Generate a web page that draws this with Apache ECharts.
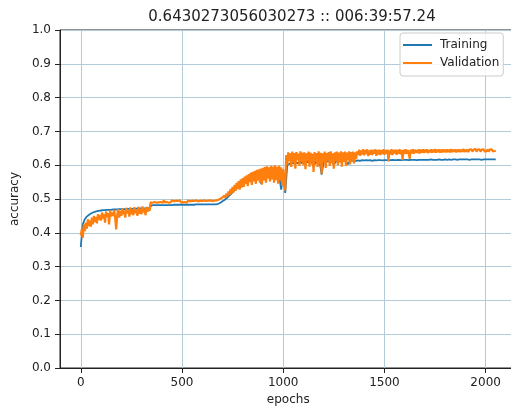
<!DOCTYPE html>
<html>
<head>
<meta charset="utf-8">
<title>accuracy</title>
<script src="https://cdn.jsdelivr.net/npm/echarts@6/dist/echarts.min.js"></script>
<style>
    html, body { margin: 0; padding: 0; background: #fff; }
    #chart { width: 511px; height: 407px; }
</style>
</head>
<body>
<div id="chart"></div>
<script>
// 图表标题和坐标轴文字
var titleText = '0.6430273056030273 :: 006:39:57.24';
var seriesNames = ['Training', 'Validation'];
var xTicks = [0, 500, 1000, 1500, 2000];

// 训练曲线的 epoch (每10个取一个点)
var trainEpochs = [
    0, 10, 20, 30, 40, 50, 60, 70, 80, 90,
    100, 110, 120, 130, 140, 150, 160, 170, 180, 190,
    200, 210, 220, 230, 240, 250, 260, 270, 280, 290,
    300, 310, 320, 330, 340, 350, 360, 370, 380, 390,
    400, 410, 420, 430, 440, 450, 460, 470, 480, 490,
    500, 510, 520, 530, 540, 550, 560, 570, 580, 590,
    600, 610, 620, 630, 640, 650, 660, 670, 680, 690,
    700, 710, 720, 730, 740, 750, 760, 770, 780, 790,
    800, 810, 820, 830, 840, 850, 860, 870, 880, 890,
    900, 910, 920, 930, 940, 950, 960, 970, 980, 990,
    1000, 1010, 1020, 1030, 1040, 1050, 1060, 1070, 1080, 1090,
    1100, 1110, 1120, 1130, 1140, 1150, 1160, 1170, 1180, 1190,
    1200, 1210, 1220, 1230, 1240, 1250, 1260, 1270, 1280, 1290,
    1300, 1310, 1320, 1330, 1340, 1350, 1360, 1370, 1380, 1390,
    1400, 1410, 1420, 1430, 1440, 1450, 1460, 1470, 1480, 1490,
    1500, 1510, 1520, 1530, 1540, 1550, 1560, 1570, 1580, 1590,
    1600, 1610, 1620, 1630, 1640, 1650, 1660, 1670, 1680, 1690,
    1700, 1710, 1720, 1730, 1740, 1750, 1760, 1770, 1780, 1790,
    1800, 1810, 1820, 1830, 1840, 1850, 1860, 1870, 1880, 1890,
    1900, 1910, 1920, 1930, 1940, 1950, 1960, 1970, 1980, 1990,
    2000, 2010, 2020, 2030, 2040, 2050
];

// 训练集准确率
var training = [
    0.358, 0.425, 0.440, 0.448, 0.453, 0.457, 0.460, 0.462, 0.464, 0.465,
    0.466, 0.467, 0.467, 0.468, 0.468, 0.468, 0.469, 0.469, 0.469, 0.470,
    0.470, 0.470, 0.470, 0.471, 0.471, 0.471, 0.471, 0.471, 0.472, 0.472,
    0.472, 0.472, 0.472, 0.473, 0.474, 0.481, 0.482, 0.482, 0.482, 0.482,
    0.482, 0.482, 0.482, 0.482, 0.482, 0.482, 0.483, 0.483, 0.483, 0.483,
    0.483, 0.483, 0.483, 0.483, 0.483, 0.483, 0.483, 0.484, 0.484, 0.484,
    0.484, 0.484, 0.484, 0.484, 0.484, 0.484, 0.484, 0.484, 0.486, 0.489,
    0.493, 0.497, 0.502, 0.508, 0.514, 0.520, 0.526, 0.531, 0.535, 0.539,
    0.543, 0.546, 0.549, 0.552, 0.554, 0.556, 0.558, 0.560, 0.561, 0.546,
    0.563, 0.565, 0.566, 0.567, 0.568, 0.569, 0.570, 0.571, 0.571, 0.528,
    0.572, 0.518, 0.600, 0.604, 0.607, 0.605, 0.608, 0.606, 0.609, 0.607,
    0.609, 0.608, 0.610, 0.608, 0.610, 0.595, 0.610, 0.609, 0.611, 0.572,
    0.611, 0.610, 0.612, 0.611, 0.612, 0.600, 0.612, 0.611, 0.613, 0.612,
    0.613, 0.612, 0.603, 0.613, 0.613, 0.614, 0.613, 0.614, 0.613, 0.615,
    0.614, 0.615, 0.614, 0.615, 0.613, 0.615, 0.614, 0.615, 0.615, 0.614,
    0.615, 0.615, 0.614, 0.615, 0.616, 0.615, 0.615, 0.616, 0.615, 0.616,
    0.616, 0.616, 0.615, 0.616, 0.616, 0.616, 0.615, 0.616, 0.616, 0.616,
    0.616, 0.616, 0.616, 0.617, 0.616, 0.616, 0.616, 0.617, 0.616, 0.616,
    0.617, 0.616, 0.617, 0.616, 0.617, 0.617, 0.616, 0.617, 0.617, 0.617,
    0.617, 0.617, 0.616, 0.617, 0.617, 0.617, 0.617, 0.617, 0.616, 0.617,
    0.617, 0.617, 0.617, 0.617, 0.617, 0.617
];

// 验证曲线的 epoch (每5个取一个点, 噪声较大)
var valEpochs = [
    0, 5, 10, 15, 20, 25, 30, 35, 40, 45, 50, 55, 60, 65, 70, 75, 80, 85, 90, 95,
    100, 105, 110, 115, 120, 125, 130, 135, 140, 145, 150, 155, 160, 165, 170, 175, 180, 185, 190, 195,
    200, 205, 210, 215, 220, 225, 230, 235, 240, 245, 250, 255, 260, 265, 270, 275, 280, 285, 290, 295,
    300, 305, 310, 315, 320, 325, 330, 335, 340, 345, 350, 355, 360, 365, 370, 375, 380, 385, 390, 395,
    400, 405, 410, 415, 420, 425, 430, 435, 440, 445, 450, 455, 460, 465, 470, 475, 480, 485, 490, 495,
    500, 505, 510, 515, 520, 525, 530, 535, 540, 545, 550, 555, 560, 565, 570, 575, 580, 585, 590, 595,
    600, 605, 610, 615, 620, 625, 630, 635, 640, 645, 650, 655, 660, 665, 670, 675, 680, 685, 690, 695,
    700, 705, 710, 715, 720, 725, 730, 735, 740, 745, 750, 755, 760, 765, 770, 775, 780, 785, 790, 795,
    800, 805, 810, 815, 820, 825, 830, 835, 840, 845, 850, 855, 860, 865, 870, 875, 880, 885, 890, 895,
    900, 905, 910, 915, 920, 925, 930, 935, 940, 945, 950, 955, 960, 965, 970, 975, 980, 985, 990, 995,
    1000, 1005, 1010, 1015, 1020, 1025, 1030, 1035, 1040, 1045, 1050, 1055, 1060, 1065, 1070, 1075, 1080, 1085, 1090, 1095,
    1100, 1105, 1110, 1115, 1120, 1125, 1130, 1135, 1140, 1145, 1150, 1155, 1160, 1165, 1170, 1175, 1180, 1185, 1190, 1195,
    1200, 1205, 1210, 1215, 1220, 1225, 1230, 1235, 1240, 1245, 1250, 1255, 1260, 1265, 1270, 1275, 1280, 1285, 1290, 1295,
    1300, 1305, 1310, 1315, 1320, 1325, 1330, 1335, 1340, 1345, 1350, 1355, 1360, 1365, 1370, 1375, 1380, 1385, 1390, 1395,
    1400, 1405, 1410, 1415, 1420, 1425, 1430, 1435, 1440, 1445, 1450, 1455, 1460, 1465, 1470, 1475, 1480, 1485, 1490, 1495,
    1500, 1505, 1510, 1515, 1520, 1525, 1530, 1535, 1540, 1545, 1550, 1555, 1560, 1565, 1570, 1575, 1580, 1585, 1590, 1595,
    1600, 1605, 1610, 1615, 1620, 1625, 1630, 1635, 1640, 1645, 1650, 1655, 1660, 1665, 1670, 1675, 1680, 1685, 1690, 1695,
    1700, 1705, 1710, 1715, 1720, 1725, 1730, 1735, 1740, 1745, 1750, 1755, 1760, 1765, 1770, 1775, 1780, 1785, 1790, 1795,
    1800, 1805, 1810, 1815, 1820, 1825, 1830, 1835, 1840, 1845, 1850, 1855, 1860, 1865, 1870, 1875, 1880, 1885, 1890, 1895,
    1900, 1905, 1910, 1915, 1920, 1925, 1930, 1935, 1940, 1945, 1950, 1955, 1960, 1965, 1970, 1975, 1980, 1985, 1990, 1995,
    2000, 2005, 2010, 2015, 2020, 2025, 2030, 2035, 2040, 2045, 2050
];

// 验证集准确率
var validation = [
    0.392, 0.410, 0.385, 0.425, 0.405, 0.430, 0.412, 0.440, 0.420, 0.436, 0.418, 0.445, 0.425, 0.450, 0.432, 0.447, 0.428, 0.455, 0.438, 0.452,
    0.436, 0.460, 0.442, 0.455, 0.430, 0.463, 0.447, 0.458, 0.425, 0.466, 0.448, 0.460, 0.450, 0.468, 0.444, 0.410, 0.452, 0.470, 0.445, 0.465,
    0.450, 0.472, 0.455, 0.466, 0.445, 0.474, 0.458, 0.468, 0.448, 0.475, 0.455, 0.470, 0.452, 0.476, 0.458, 0.469, 0.450, 0.477, 0.456, 0.471,
    0.455, 0.478, 0.460, 0.472, 0.452, 0.477, 0.462, 0.474, 0.465, 0.490, 0.495, 0.489, 0.494, 0.491, 0.496, 0.489, 0.493, 0.490, 0.495, 0.491,
    0.494, 0.489, 0.496, 0.490, 0.493, 0.491, 0.495, 0.489, 0.494, 0.490, 0.496, 0.491, 0.493, 0.489, 0.495, 0.490, 0.494, 0.491, 0.496, 0.490,
    0.493, 0.490, 0.495, 0.491, 0.494, 0.489, 0.496, 0.491, 0.493, 0.490, 0.495, 0.491, 0.494, 0.490, 0.496, 0.491, 0.493, 0.490, 0.495, 0.491,
    0.494, 0.490, 0.496, 0.491, 0.494, 0.491, 0.495, 0.490, 0.496, 0.492, 0.494, 0.491, 0.495, 0.492, 0.496, 0.494, 0.498, 0.496, 0.501, 0.499,
    0.505, 0.501, 0.510, 0.504, 0.516, 0.508, 0.522, 0.512, 0.530, 0.516, 0.536, 0.520, 0.542, 0.525, 0.548, 0.530, 0.553, 0.528, 0.558, 0.534,
    0.562, 0.536, 0.566, 0.545, 0.570, 0.538, 0.574, 0.550, 0.578, 0.542, 0.580, 0.552, 0.583, 0.545, 0.586, 0.555, 0.588, 0.548, 0.590, 0.542,
    0.592, 0.555, 0.595, 0.548, 0.597, 0.560, 0.594, 0.552, 0.598, 0.558, 0.596, 0.548, 0.600, 0.556, 0.595, 0.545, 0.598, 0.555, 0.594, 0.540,
    0.588, 0.548, 0.525, 0.630, 0.600, 0.638, 0.612, 0.635, 0.595, 0.640, 0.608, 0.636, 0.590, 0.639, 0.615, 0.634, 0.598, 0.641, 0.610, 0.637,
    0.600, 0.638, 0.588, 0.635, 0.612, 0.640, 0.596, 0.637, 0.605, 0.634, 0.580, 0.639, 0.610, 0.636, 0.595, 0.641, 0.604, 0.637, 0.575, 0.635,
    0.608, 0.640, 0.592, 0.636, 0.615, 0.639, 0.598, 0.641, 0.606, 0.635, 0.590, 0.638, 0.612, 0.640, 0.600, 0.637, 0.608, 0.641, 0.596, 0.638,
    0.610, 0.640, 0.598, 0.637, 0.614, 0.641, 0.602, 0.639, 0.612, 0.640, 0.605, 0.638, 0.618, 0.641, 0.630, 0.646, 0.628, 0.644, 0.632, 0.647,
    0.629, 0.645, 0.633, 0.647, 0.627, 0.644, 0.631, 0.646, 0.630, 0.645, 0.634, 0.647, 0.628, 0.645, 0.632, 0.646, 0.630, 0.644, 0.633, 0.647,
    0.631, 0.645, 0.634, 0.646, 0.612, 0.644, 0.632, 0.647, 0.630, 0.645, 0.635, 0.646, 0.631, 0.645, 0.634, 0.647, 0.632, 0.645, 0.616, 0.646,
    0.634, 0.647, 0.633, 0.645, 0.636, 0.619, 0.646, 0.635, 0.647, 0.634, 0.646, 0.637, 0.645, 0.636, 0.647, 0.635, 0.646, 0.637, 0.647, 0.636,
    0.646, 0.638, 0.647, 0.636, 0.645, 0.638, 0.647, 0.637, 0.646, 0.638, 0.648, 0.637, 0.646, 0.639, 0.647, 0.637, 0.646, 0.638, 0.647, 0.639,
    0.646, 0.638, 0.647, 0.639, 0.646, 0.638, 0.648, 0.639, 0.646, 0.640, 0.647, 0.638, 0.646, 0.640, 0.647, 0.639, 0.646, 0.640, 0.648, 0.639,
    0.646, 0.640, 0.647, 0.639, 0.646, 0.641, 0.647, 0.640, 0.646, 0.641, 0.648, 0.640, 0.646, 0.641, 0.647, 0.640, 0.646, 0.641, 0.647, 0.641,
    0.646, 0.641, 0.647, 0.640, 0.646, 0.642, 0.647, 0.641, 0.646, 0.642, 0.643
];

function pairs(xs, values) {
    return values.map(function (v, i) { return [xs[i], v]; });
}

var font = 'DejaVu Sans';
var ink = '#222';
var gridColor = '#b3cad8';

var myChart = echarts.init(document.getElementById('chart'), null, { renderer: 'canvas' });
var option = {
    animation: false,
    backgroundColor: '#fff',
    title: {
        text: titleText,
        left: 287,
        top: 5,
        textAlign: 'center',
        textStyle: { fontFamily: font, fontSize: 15, fontWeight: 'normal', color: ink }
    },
    legend: {
        data: seriesNames,
        orient: 'vertical',
        left: 400,
        top: 33,
        padding: [6, 4, 7, 3],
        itemGap: 6,
        itemWidth: 29,
        itemHeight: 2,
        icon: 'rect',
        backgroundColor: 'rgba(255,255,255,0.85)',
        borderColor: '#cccccc',
        borderWidth: 1,
        borderRadius: 3,
        textStyle: { fontFamily: font, fontSize: 12, color: ink, padding: [0, 0, 0, 3] }
    },
    grid: {
        left: 60,
        top: 30,
        right: -5.5,
        bottom: 39,
        show: true,
        borderColor: ink,
        borderWidth: 1,
        containLabel: false,
        outerBoundsMode: 'none'
    },
    xAxis: {
        type: 'value',
        min: -102.5,
        max: 2152.5,
        name: 'epochs',
        nameLocation: 'middle',
        nameGap: 26,
        nameTextStyle: { fontFamily: font, fontSize: 12, color: ink },
        axisLine: { show: true, onZero: false, lineStyle: { color: ink, width: 1 } },
        axisTick: { show: true, inside: false, length: 5, customValues: xTicks, lineStyle: { color: ink } },
        axisLabel: {
            customValues: xTicks,
            margin: 9,
            fontFamily: font,
            fontSize: 12,
            color: ink,
            formatter: function (v) { return String(v); }
        },
        splitLine: { show: true, lineStyle: { color: gridColor, width: 1 } }
    },
    yAxis: {
        type: 'value',
        min: 0,
        max: 1,
        interval: 0.1,
        name: 'accuracy',
        nameLocation: 'middle',
        nameGap: 37,
        nameRotate: 90,
        nameTextStyle: { fontFamily: font, fontSize: 12, color: ink },
        axisLine: { show: true, onZero: false, lineStyle: { color: ink, width: 1 } },
        axisTick: { show: true, inside: false, length: 5, lineStyle: { color: ink } },
        axisLabel: {
            margin: 9,
            fontFamily: font,
            fontSize: 12,
            color: ink,
            formatter: function (v) { return v.toFixed(1); }
        },
        splitLine: { show: true, lineStyle: { color: gridColor, width: 1 } }
    },
    series: [
        {
            name: seriesNames[0],
            type: 'line',
            showSymbol: false,
            symbol: 'none',
            color: '#1f77b4',
            lineStyle: { color: '#1f77b4', width: 1.8 },
            data: pairs(trainEpochs, training)
        },
        {
            name: seriesNames[1],
            type: 'line',
            showSymbol: false,
            symbol: 'none',
            color: '#ff7f0e',
            lineStyle: { color: '#ff7f0e', width: 2.2 },
            data: pairs(valEpochs, validation)
        }
    ]
};
myChart.setOption(option);
</script>
</body>
</html>
